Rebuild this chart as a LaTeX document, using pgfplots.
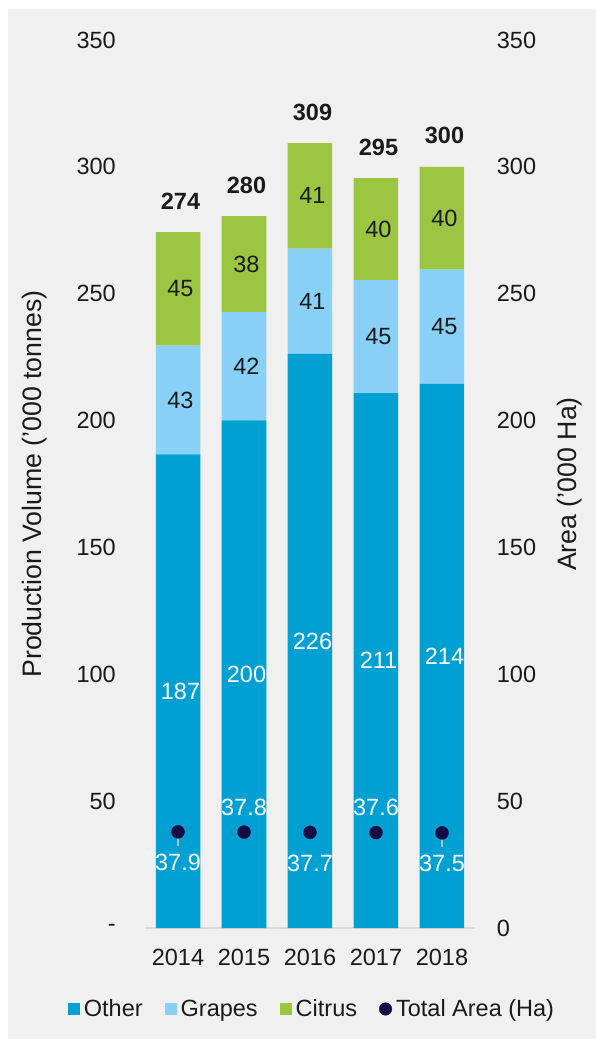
\documentclass[border=0pt]{standalone}
\usepackage{fontspec}
\setmainfont{Liberation Sans}
\usepackage{pgfplots}
\pgfplotsset{compat=1.18}
\definecolor{other}{RGB}{0,160,210}
\definecolor{grapes}{RGB}{136,208,245}
\definecolor{citrus}{RGB}{156,197,65}
\definecolor{navy}{RGB}{20,12,69}
\definecolor{bggray}{RGB}{240,240,240}
\definecolor{axisgray}{RGB}{217,217,217}
\definecolor{txt}{RGB}{26,26,26}
\newcommand\fs{\fontsize{23.5pt}{28pt}\selectfont}
\newcommand\fl{\fontsize{26.7pt}{31pt}\selectfont}
\begin{document}
\begin{tikzpicture}
\useasboundingbox (0,0) rectangle (596pt,1039pt);
\fill[bggray] (8pt,0) rectangle (596pt,1030pt);
% ---------- bars ----------
\begin{axis}[
  at={(145pt,111pt)}, anchor=south west,
  scale only axis, width=330pt, height=888pt,
  xmin=-0.5, xmax=4.5, ymin=0, ymax=350, enlargelimits=false,
  ybar stacked, bar width=44.5pt,
  axis x line*=bottom, axis y line*=left,
  x axis line style={draw=axisgray, line width=1.5pt},
  y axis line style={draw=none},
  xtick={0,1,2,3,4}, xticklabels={2014,2015,2016,2017,2018},
  ytick={0,50,...,350}, yticklabels={-,50,100,150,200,250,300,350},
  major tick length=0pt,
  tick label style={font=\fs, text=txt, inner sep=0pt},
  xticklabel style={yshift=-20.6pt},
  yticklabel style={xshift=-29pt},
  ylabel={Production Volume ('000 tonnes)},
  ylabel style={font=\fl, text=txt, at={(axis description cs:-0.3333,0.5)}, anchor=center},
  legend style={at={(0.503,-0.0912)}, anchor=center, draw=none, fill=none,
    font=\fs, text=txt, legend columns=-1, legend cell align=left,
    nodes={inner sep=0pt},
    /tikz/every odd column/.append style={column sep=4pt},
    /tikz/every even column/.append style={column sep=22pt}},
  clip=false,
]
\addplot[fill=other, draw=none, legend image code/.code={\fill[other] (0pt,-6pt) rectangle (12pt,6pt);}]
  coordinates {(0,186.7) (1,200.1) (2,226.3) (3,210.8) (4,214.5)};
\addlegendentry{Other}
\addplot[fill=grapes, draw=none, legend image code/.code={\fill[grapes] (0pt,-6pt) rectangle (12pt,6pt);}]
  coordinates {(0,42.8) (1,42.6) (2,41.5) (3,44.6) (4,45.0)};
\addlegendentry{Grapes}
\addplot[fill=citrus, draw=none, legend image code/.code={\fill[citrus] (0pt,-6pt) rectangle (12pt,6pt);}]
  coordinates {(0,44.8) (1,37.9) (2,41.6) (3,40.2) (4,40.5)};
\addlegendentry{Citrus}
\addlegendimage{legend image code/.code={\fill[navy] (6.3pt,0pt) circle (6.3pt);}}
\addlegendentry{Total Area (Ha)}
\end{axis}
% ---------- labels, area ----------
\begin{axis}[
  at={(145pt,111pt)}, anchor=south west,
  scale only axis, width=330pt, height=888pt,
  xmin=-0.5, xmax=4.5, ymin=0, ymax=350, enlargelimits=false,
  axis x line=none, axis y line*=right,
  y axis line style={draw=none},
  ytick={0,50,...,350}, yticklabels={0,50,100,150,200,250,300,350},
  major tick length=0pt,
  tick label style={font=\fs, text=txt, inner sep=0pt},
  yticklabel style={xshift=21.7pt},
  ylabel={Area ('000 Ha)},
  ylabel style={font=\fl, text=txt, at={(axis description cs:1.288,0.5)}, anchor=center},
  clip=false,
]
% Other labels
\addplot[draw=none, nodes near coords, point meta=explicit symbolic,
  every node near coord/.append style={anchor=center, font=\fs, text=white, inner sep=0pt, xshift=2.5pt}]
  table[meta=l] {
x y l
0 93.35 187
1 100.05 200
2 113.15 226
3 105.4 211
4 107.25 214
};
% Grapes labels
\addplot[draw=none, nodes near coords, point meta=explicit symbolic,
  every node near coord/.append style={anchor=center, font=\fs, text=txt, inner sep=0pt, xshift=2.5pt}]
  table[meta=l] {
x y l
0 208.1 43
1 221.4 42
2 247.05 41
3 233.1 45
4 237.0 45
};
% Citrus labels
\addplot[draw=none, nodes near coords, point meta=explicit symbolic,
  every node near coord/.append style={anchor=center, font=\fs, text=txt, inner sep=0pt, xshift=2.5pt}]
  table[meta=l] {
x y l
0 251.9 45
1 261.65 38
2 288.6 41
3 275.5 40
4 279.75 40
};
% Totals
\addplot[draw=none, nodes near coords, point meta=explicit symbolic,
  every node near coord/.append style={anchor=center, font=\fs\bfseries, text=txt, inner sep=0pt, xshift=2.5pt, yshift=31pt}]
  table[meta=l] {
x y l
0 274.3 274
1 280.6 280
2 309.4 309
3 295.6 295
4 300.0 300
};
% Total area dots
\addplot[only marks, mark=*, mark size=6.5pt, mark options={fill=navy, draw=navy}]
  coordinates {(0,37.9) (1,37.8) (2,37.7) (3,37.6) (4,37.5)};
\draw[gray!55, line width=1.5pt] (axis cs:0,37.9) -- ++(0pt,-14pt);
\draw[gray!55, line width=1.5pt] (axis cs:4,37.5) -- ++(0pt,-14pt);
% area labels below
\addplot[draw=none, nodes near coords, point meta=explicit symbolic,
  every node near coord/.append style={anchor=center, font=\fs, text=white, inner sep=0pt, yshift=-31pt}]
  table[meta=l] {
x y l
0 37.9 37.9
2 37.7 37.7
4 37.5 37.5
};
% area labels above
\addplot[draw=none, nodes near coords, point meta=explicit symbolic,
  every node near coord/.append style={anchor=center, font=\fs, text=white, inner sep=0pt, yshift=25pt}]
  table[meta=l] {
x y l
1 37.8 37.8
3 37.6 37.6
};
\end{axis}
\end{tikzpicture}
\end{document}
